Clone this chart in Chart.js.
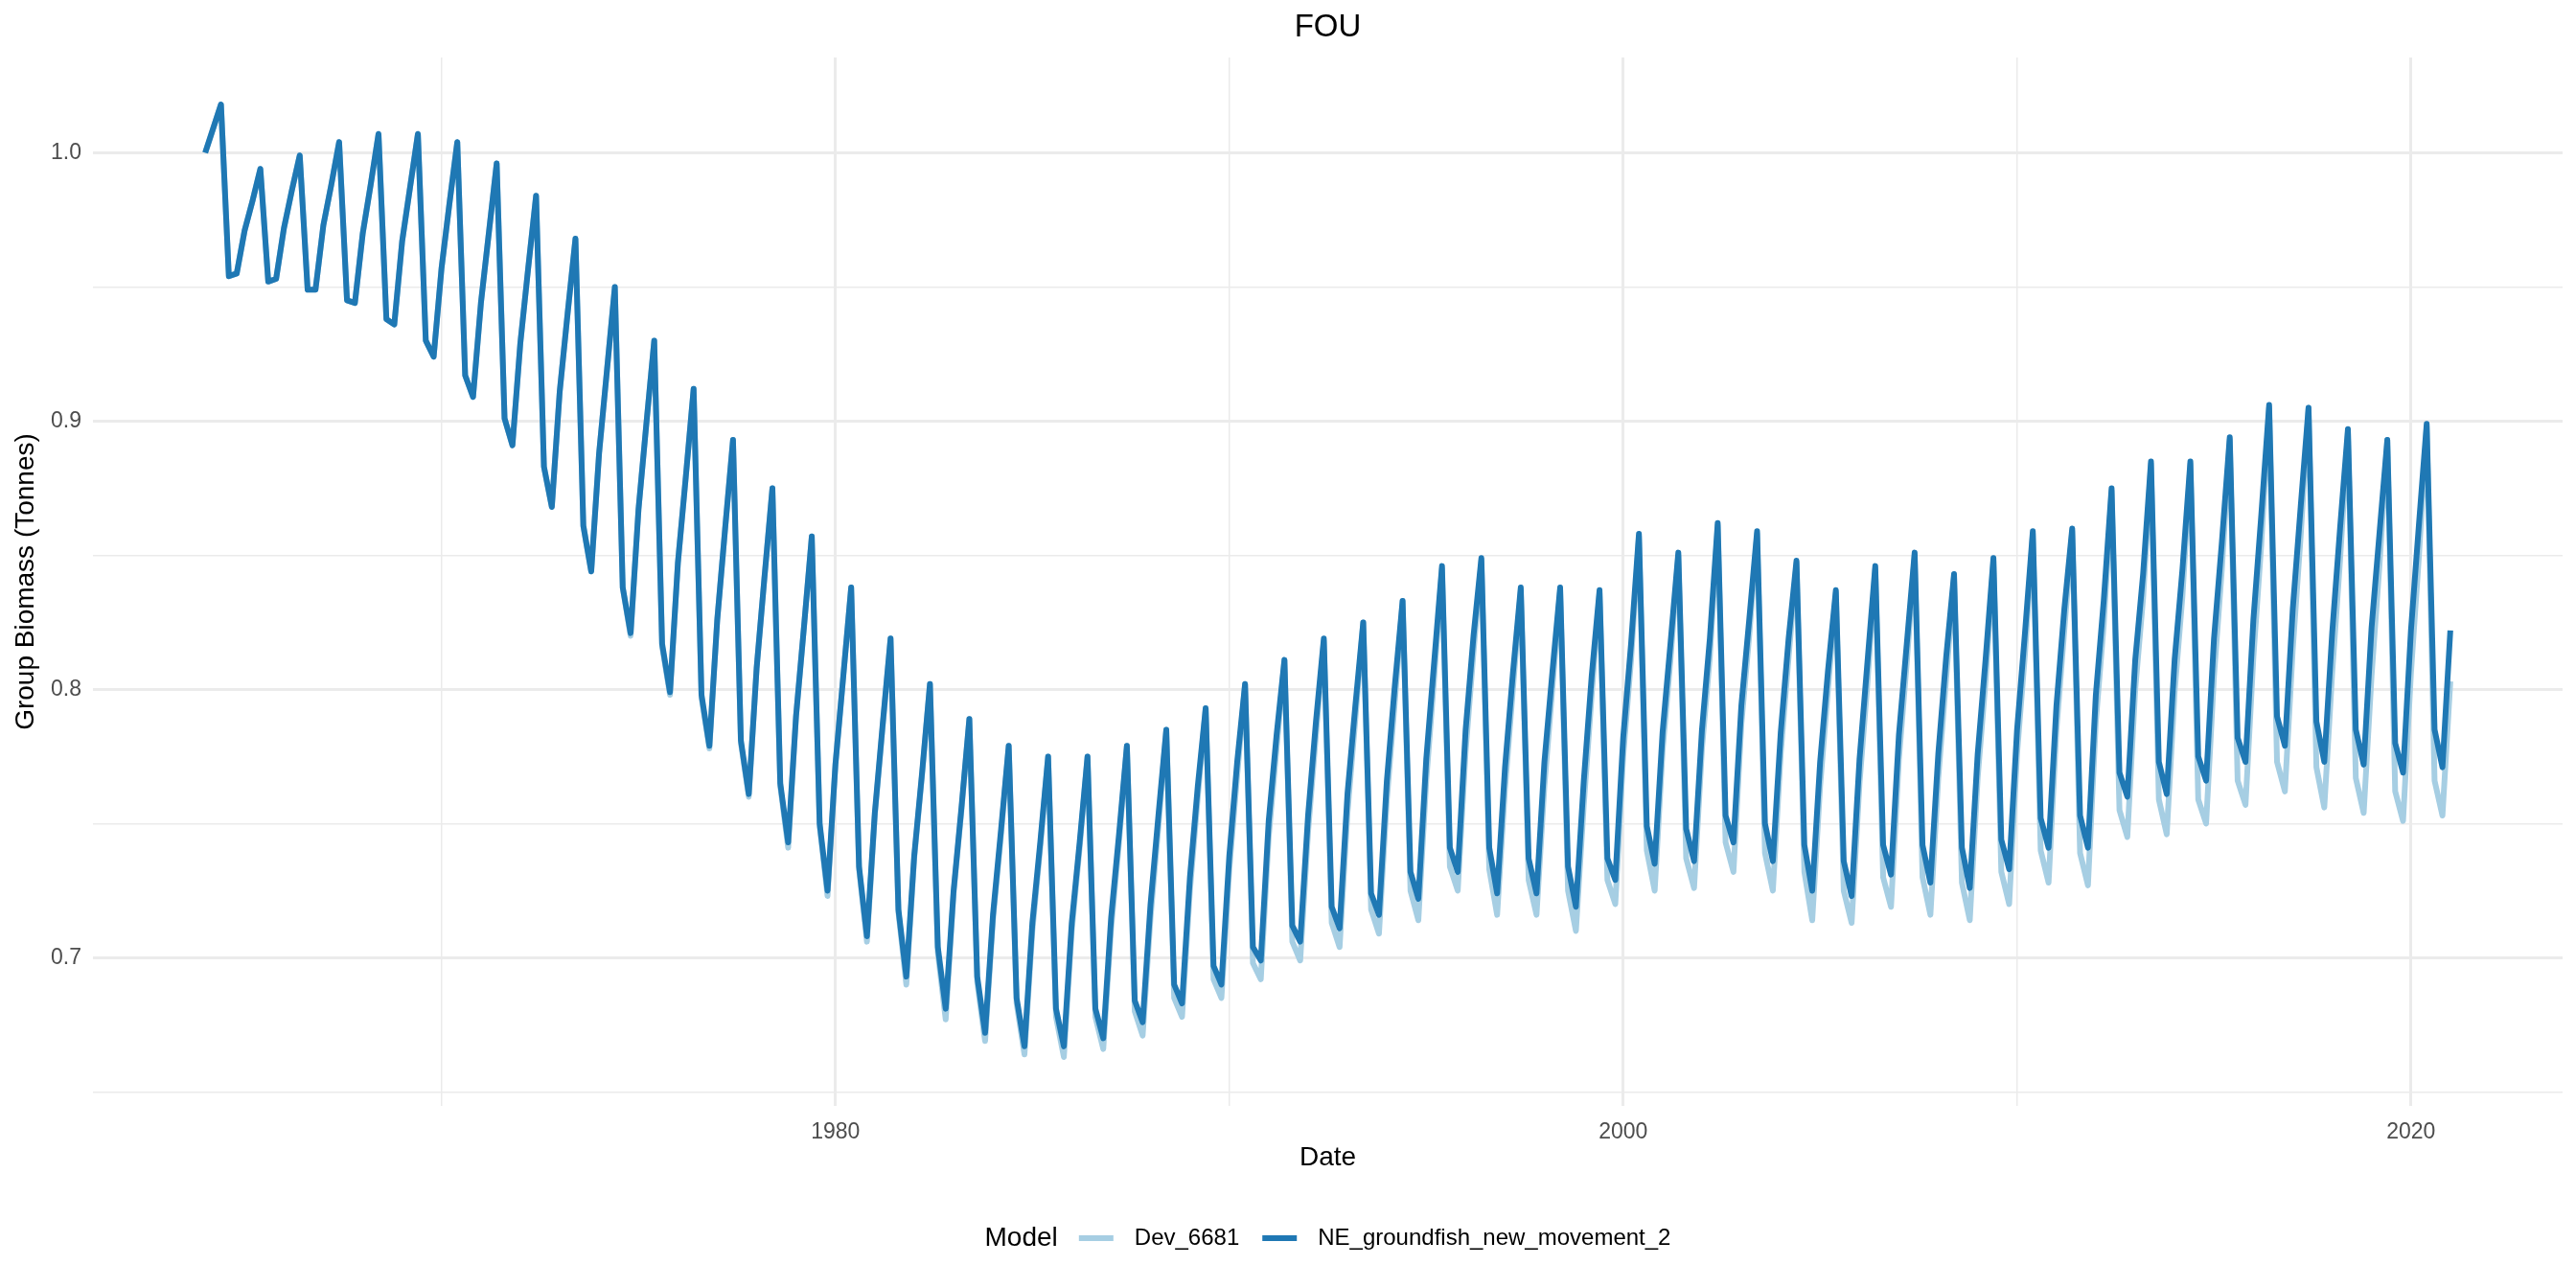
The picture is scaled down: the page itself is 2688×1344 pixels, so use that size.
<!DOCTYPE html>
<html lang="en">
<head>
    <meta charset="UTF-8">
    <title>FOU</title>
    <script src="https://cdn.jsdelivr.net/npm/chart.js"></script>
    <style>
        body { margin: 0; background: #ffffff; }
        #fouChart { display: block; }
    </style>
</head>
<body>
<canvas id="fouChart" width="2688" height="1344"></canvas>
<script>
    // output every 73 days -> 5 values a year, first value at the start of 1964
    const firstYear = 1964;
    const stepsPerYear = 5;

    const seriesNames = ['Dev_6681', 'NE_groundfish_new_movement_2'];
    const seriesColors = ['#A6CEE3', '#1F78B4'];

    // one row per year
    const dev6681 = [
        1.000, 1.009, 1.018, 0.954, 0.955,
        0.971, 0.982, 0.994, 0.952, 0.953,
        0.972, 0.986, 0.999, 0.949, 0.949,
        0.973, 0.988, 1.004, 0.945, 0.944,
        0.970, 0.988, 1.007, 0.938, 0.936,
        0.967, 0.987, 1.007, 0.930, 0.924,
        0.957, 0.981, 1.004, 0.917, 0.909,
        0.944, 0.970, 0.996, 0.901, 0.891,
        0.929, 0.957, 0.984, 0.883, 0.868,
        0.911, 0.940, 0.968, 0.861, 0.844,
        0.888, 0.919, 0.950, 0.838, 0.820,
        0.867, 0.899, 0.930, 0.816, 0.798,
        0.847, 0.879, 0.912, 0.797, 0.778,
        0.826, 0.860, 0.893, 0.780, 0.760,
        0.808, 0.842, 0.875, 0.764, 0.741,
        0.790, 0.823, 0.857, 0.749, 0.723,
        0.772, 0.805, 0.838, 0.733, 0.706,
        0.753, 0.786, 0.819, 0.717, 0.690,
        0.737, 0.768, 0.802, 0.702, 0.677,
        0.724, 0.755, 0.789, 0.691, 0.669,
        0.714, 0.745, 0.779, 0.683, 0.664,
        0.710, 0.741, 0.775, 0.678, 0.663,
        0.710, 0.741, 0.775, 0.678, 0.666,
        0.711, 0.743, 0.779, 0.680, 0.671,
        0.715, 0.749, 0.785, 0.685, 0.678,
        0.725, 0.760, 0.793, 0.692, 0.685,
        0.733, 0.768, 0.802, 0.698, 0.692,
        0.745, 0.778, 0.811, 0.706, 0.699,
        0.747, 0.783, 0.818, 0.713, 0.704,
        0.754, 0.789, 0.825, 0.718, 0.709,
        0.759, 0.795, 0.833, 0.725, 0.714,
        0.766, 0.804, 0.845, 0.734, 0.725,
        0.777, 0.814, 0.848, 0.733, 0.716,
        0.763, 0.800, 0.837, 0.729, 0.716,
        0.764, 0.800, 0.837, 0.725, 0.710,
        0.757, 0.798, 0.836, 0.729, 0.720,
        0.775, 0.811, 0.857, 0.740, 0.725,
        0.777, 0.811, 0.850, 0.737, 0.726,
        0.778, 0.812, 0.861, 0.743, 0.732,
        0.787, 0.820, 0.858, 0.739, 0.725,
        0.776, 0.812, 0.847, 0.732, 0.714,
        0.764, 0.800, 0.836, 0.725, 0.713,
        0.765, 0.802, 0.845, 0.730, 0.719,
        0.774, 0.810, 0.850, 0.730, 0.716,
        0.767, 0.804, 0.842, 0.728, 0.714,
        0.767, 0.803, 0.848, 0.732, 0.720,
        0.776, 0.813, 0.858, 0.740, 0.728,
        0.785, 0.822, 0.859, 0.739, 0.727,
        0.788, 0.824, 0.874, 0.755, 0.745,
        0.800, 0.834, 0.884, 0.759, 0.746,
        0.799, 0.835, 0.884, 0.759, 0.750,
        0.805, 0.845, 0.893, 0.766, 0.757,
        0.812, 0.854, 0.905, 0.773, 0.762,
        0.815, 0.857, 0.905, 0.771, 0.756,
        0.806, 0.848, 0.896, 0.767, 0.754,
        0.805, 0.846, 0.893, 0.762, 0.751,
        0.806, 0.849, 0.898, 0.766, 0.753,
        0.803
    ];

    const neGroundfish = [
        1.000, 1.009, 1.018, 0.954, 0.955,
        0.971, 0.982, 0.994, 0.952, 0.953,
        0.972, 0.986, 0.999, 0.949, 0.949,
        0.973, 0.988, 1.004, 0.945, 0.944,
        0.970, 0.988, 1.007, 0.938, 0.936,
        0.967, 0.987, 1.007, 0.930, 0.924,
        0.957, 0.981, 1.004, 0.917, 0.909,
        0.944, 0.970, 0.996, 0.901, 0.891,
        0.929, 0.957, 0.984, 0.883, 0.868,
        0.911, 0.940, 0.968, 0.861, 0.844,
        0.888, 0.919, 0.950, 0.838, 0.821,
        0.867, 0.899, 0.930, 0.817, 0.799,
        0.847, 0.879, 0.912, 0.798, 0.779,
        0.826, 0.860, 0.893, 0.781, 0.761,
        0.808, 0.842, 0.875, 0.765, 0.743,
        0.790, 0.823, 0.857, 0.750, 0.725,
        0.772, 0.805, 0.838, 0.734, 0.708,
        0.754, 0.787, 0.819, 0.718, 0.693,
        0.738, 0.769, 0.802, 0.704, 0.681,
        0.725, 0.756, 0.789, 0.693, 0.672,
        0.716, 0.747, 0.779, 0.685, 0.667,
        0.713, 0.743, 0.775, 0.681, 0.667,
        0.713, 0.743, 0.775, 0.681, 0.670,
        0.715, 0.746, 0.779, 0.684, 0.676,
        0.720, 0.753, 0.785, 0.690, 0.683,
        0.730, 0.764, 0.793, 0.697, 0.690,
        0.738, 0.773, 0.802, 0.704, 0.699,
        0.751, 0.783, 0.811, 0.712, 0.706,
        0.753, 0.788, 0.819, 0.719, 0.711,
        0.761, 0.794, 0.825, 0.724, 0.716,
        0.766, 0.801, 0.833, 0.732, 0.722,
        0.774, 0.810, 0.846, 0.741, 0.732,
        0.785, 0.820, 0.849, 0.741, 0.724,
        0.771, 0.806, 0.838, 0.737, 0.724,
        0.773, 0.806, 0.838, 0.734, 0.719,
        0.766, 0.805, 0.837, 0.737, 0.729,
        0.782, 0.817, 0.858, 0.749, 0.735,
        0.784, 0.817, 0.851, 0.748, 0.736,
        0.785, 0.819, 0.862, 0.753, 0.743,
        0.794, 0.826, 0.859, 0.750, 0.736,
        0.784, 0.819, 0.848, 0.742, 0.725,
        0.773, 0.807, 0.837, 0.736, 0.723,
        0.774, 0.810, 0.846, 0.742, 0.731,
        0.783, 0.817, 0.851, 0.742, 0.728,
        0.776, 0.812, 0.843, 0.741, 0.726,
        0.776, 0.811, 0.849, 0.744, 0.733,
        0.785, 0.821, 0.859, 0.752, 0.741,
        0.794, 0.830, 0.860, 0.753, 0.741,
        0.798, 0.833, 0.875, 0.769, 0.760,
        0.811, 0.843, 0.885, 0.773, 0.761,
        0.811, 0.845, 0.885, 0.775, 0.766,
        0.819, 0.855, 0.894, 0.782, 0.773,
        0.826, 0.865, 0.906, 0.790, 0.779,
        0.830, 0.868, 0.905, 0.788, 0.773,
        0.821, 0.860, 0.897, 0.785, 0.772,
        0.823, 0.858, 0.893, 0.780, 0.769,
        0.822, 0.861, 0.899, 0.785, 0.771,
        0.822
    ];

    // axis limits (ggplot adds 5% on each side) and grid positions
    const xMin = 1961.15, xMax = 2023.85;
    const yMin = 0.6448, yMax = 1.0355;
    const xGridYears = [1970, 1980, 1990, 2000, 2010, 2020];
    const xLabelYears = [1980, 2000, 2020];
    const yGridValues = [0.65, 0.70, 0.75, 0.80, 0.85, 0.90, 0.95, 1.00];
    const yLabelValues = [0.7, 0.8, 0.9, 1.0];

    const fontFamily = "'Liberation Sans', Arial, sans-serif";

    function toPoints(values) {
        return values.map((v, i) => ({ x: firstYear + i / stepsPerYear, y: v }));
    }

    function isLabel(list, v) {
        return list.some(l => Math.abs(l - v) < 1e-6);
    }

    // title over the panel and ggplot style legend below it
    const ggDecor = {
        id: 'ggDecor',
        afterDraw(chart) {
            const c = chart.ctx;
            const area = chart.chartArea;
            const mid = (area.left + area.right) / 2;
            c.save();
            c.fillStyle = '#000000';
            c.textBaseline = 'middle';
            c.textAlign = 'center';
            c.font = '33px ' + fontFamily;
            c.fillText('FOU', mid, 29);

            // legend row
            const y = 1292;
            const keyW = 36, gapTitle = 22, gapKey = 22, gapItem = 24;
            c.font = '28px ' + fontFamily;
            const titleW = c.measureText('Model').width;
            c.font = '24px ' + fontFamily;
            const sets = chart.data.datasets;
            const labelW = sets.map(d => c.measureText(d.label).width);
            let total = titleW + gapTitle;
            labelW.forEach((w, i) => { total += keyW + gapKey + w + (i < labelW.length - 1 ? gapItem : 0); });
            let x = mid - total / 2;
            c.textAlign = 'left';
            c.font = '28px ' + fontFamily;
            c.fillText('Model', x, y);
            x += titleW + gapTitle;
            c.font = '24px ' + fontFamily;
            sets.forEach((d, i) => {
                c.strokeStyle = d.borderColor;
                c.lineWidth = d.borderWidth;
                c.beginPath();
                c.moveTo(x, y);
                c.lineTo(x + keyW, y);
                c.stroke();
                x += keyW + gapKey;
                c.fillText(d.label, x, y);
                x += labelW[i] + gapItem;
            });
            c.restore();
        }
    };

    const ctx = document.getElementById('fouChart').getContext('2d');
    const fouChart = new Chart(ctx, {
        type: 'line',
        data: {
            datasets: [
                {
                    label: seriesNames[0],
                    data: toPoints(dev6681),
                    borderColor: seriesColors[0],
                    borderWidth: 6,
                    order: 1
                },
                {
                    label: seriesNames[1],
                    data: toPoints(neGroundfish),
                    borderColor: seriesColors[1],
                    borderWidth: 6,
                    order: 0
                }
            ]
        },
        options: {
            responsive: false,
            animation: false,
            devicePixelRatio: 1,
            layout: { padding: { left: 0, right: 14, top: 60, bottom: 114 } },
            elements: {
                point: { radius: 0 },
                line: { tension: 0, borderJoinStyle: 'round', borderCapStyle: 'butt', fill: false }
            },
            plugins: {
                legend: { display: false },
                tooltip: { enabled: false },
                title: { display: false }
            },
            scales: {
                x: {
                    type: 'linear',
                    min: xMin,
                    max: xMax,
                    afterBuildTicks: s => { s.ticks = xGridYears.map(v => ({ value: v })); },
                    afterFit: s => { s.height = 76; },
                    border: { display: false },
                    grid: {
                        color: '#EBEBEB',
                        lineWidth: c => isLabel(xLabelYears, c.tick.value) ? 3 : 1.5,
                        drawTicks: false
                    },
                    ticks: {
                        autoSkip: false,
                        maxRotation: 0,
                        padding: 14,
                        color: '#4D4D4D',
                        font: { size: 23, family: fontFamily },
                        callback: v => isLabel(xLabelYears, v) ? String(v) : ''
                    },
                    title: {
                        display: true,
                        text: 'Date',
                        color: '#000000',
                        font: { size: 28, family: fontFamily },
                        padding: { top: 0, bottom: 5 }
                    }
                },
                y: {
                    min: yMin,
                    max: yMax,
                    afterBuildTicks: s => { s.ticks = yGridValues.map(v => ({ value: v })); },
                    afterFit: s => { s.width = 97; },
                    border: { display: false },
                    grid: {
                        color: '#EBEBEB',
                        lineWidth: c => isLabel(yLabelValues, c.tick.value) ? 3 : 1.5,
                        drawTicks: false
                    },
                    ticks: {
                        autoSkip: false,
                        padding: 12,
                        color: '#4D4D4D',
                        font: { size: 23, family: fontFamily },
                        callback: v => isLabel(yLabelValues, v) ? v.toFixed(1) : ''
                    },
                    title: {
                        display: true,
                        text: 'Group Biomass (Tonnes)',
                        color: '#000000',
                        font: { size: 28, family: fontFamily },
                        padding: { top: 10, bottom: 0 }
                    }
                }
            }
        },
        plugins: [ggDecor]
    });
</script>
</body>
</html>
